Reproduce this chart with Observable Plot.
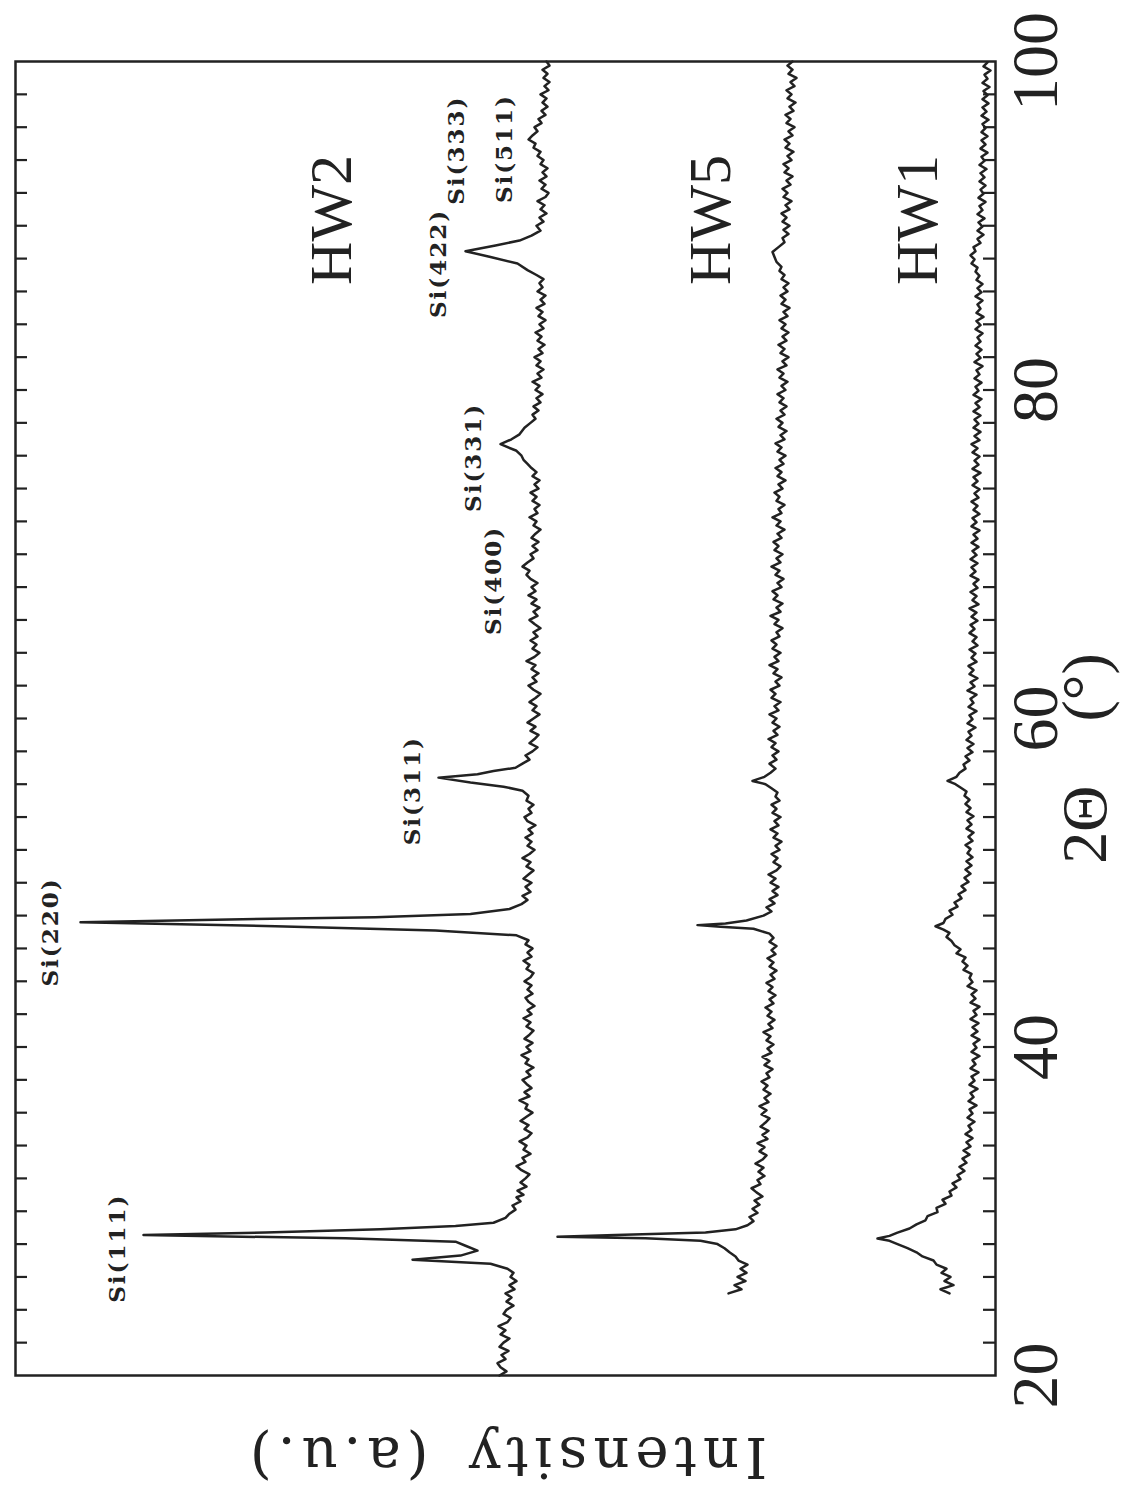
<!DOCTYPE html>
<html>
<head>
<meta charset="utf-8">
<script src="https://cdn.jsdelivr.net/npm/d3@7"></script>
<script src="https://cdn.jsdelivr.net/npm/@observablehq/plot@0.6"></script>
<style>
  html, body { margin: 0; padding: 0; background: #fff; overflow: hidden; }
  .peak text { letter-spacing: 2px; }
  .ylab text { letter-spacing: 6px; }
</style>
</head>
<body>
<div id="chart"></div>
<script>
// 2θ (deg) and intensity (a.u.): [2θ, intensity]
const HW2 = [[20,49.6],[20.25,48.9],[20.5,49.5],[20.75,49.8],[21,49.0],[21.25,49.4],[21.5,48.7],[21.75,49.6],[22,49.2],[22.25,48.6],[22.5,49.5],[22.75,49.0],[23,49.7],[23.25,48.8],[23.5,48.5],[23.75,49.2],[24,48.9],[24.25,48.2],[24.5,48.9],[24.75,48.4],[25,49.0],[25.25,48.1],[25.5,48.6],[25.75,47.9],[26,48.5],[26.25,48.2],[26.5,48.8],
[26.8,50.5],[27.05,58.3],[27.3,53.5],[27.6,51.8],[27.9,53.0],[28.15,54.0],[28.35,65],[28.55,85.2],[28.7,73],[28.9,61.5],[29.1,54],[29.3,50.2],[29.6,49.0],[29.85,48.6],[30.1,48.0],[30.35,48.3],[30.6,47.5],[30.85,47.9],
[31,47.2],[31.25,47.8],[31.5,46.9],[31.75,47.5],[32,47.0],[32.25,46.6],[32.5,47.4],[32.75,47.9],[33,47.0],[33.25,47.3],[33.5,46.5],[33.75,47.2],[34,46.9],[34.25,47.6],[34.5,46.8],[34.75,46.4],[35,47.1],[35.25,46.7],[35.5,47.5],[35.75,46.9],[36,46.3],[36.25,47.0],[36.5,46.8],[36.75,47.6],[37,46.6],[37.25,47.1],[37.5,46.4],[37.75,46.9],[38,47.3],[38.25,46.5],[38.5,46.9],[38.75,46.2],[39,47.0],[39.25,46.7],[39.5,47.4],[39.75,46.5],[40,46.9],[40.25,46.3],[40.5,47.1],[40.75,46.6],[41,46.2],[41.25,46.9],[41.5,46.5],[41.75,47.2],[42,46.4],[42.25,46.8],[42.5,46.1],[42.75,46.7],[43,47.0],[43.25,46.3],[43.5,46.8],[43.75,46.4],[44,47.1],[44.25,46.5],[44.5,46.2],[44.75,46.9],[45,46.6],[45.25,47.2],[45.5,46.4],[45.75,46.8],[46,46.3],[46.25,47.0],[46.5,46.7],
[46.8,47.9],[47.1,56],[47.35,72],[47.6,91.5],[47.75,78],[47.9,62],[48.1,52.5],[48.4,48.6],[48.7,47.4],[48.95,46.8],[49.2,47.3],[49.45,46.5],
[49.75,47.0],[50,46.4],[50.25,47.2],[50.5,46.7],[50.75,46.2],[51,46.9],[51.25,46.5],[51.5,47.3],[51.75,46.6],[52,46.1],[52.25,46.8],[52.5,46.4],[52.75,47.0],[53,46.3],[53.25,46.7],[53.5,46.0],[53.75,46.8],[54,47.1],[54.25,46.4],[54.5,46.7],[54.75,46.2],[55,46.9],
[55.3,46.7],[55.6,47.3],[55.85,49.2],[56.1,52.5],[56.4,55.7],[56.6,51.8],[56.8,50.2],[57.0,48.0],[57.25,47.3],[57.5,46.6],[57.75,47.0],
[58,46.3],[58.25,45.8],[58.5,46.6],[58.75,46.1],[59,45.7],[59.25,46.5],[59.5,46.0],[59.75,46.8],[60,46.2],[60.25,45.6],[60.5,46.3],[60.75,45.9],[61,46.6],[61.25,46.0],[61.5,45.5],[61.75,46.2],[62,46.7],[62.25,45.9],[62.5,46.3],[62.75,45.7],[63,46.4],[63.25,46.0],[63.5,46.9],[63.75,46.1],[64,45.6],[64.25,46.3],[64.5,45.9],[64.75,46.5],[65,45.8],[65.25,46.2],[65.5,45.5],[65.75,46.1],[66,46.6],[66.25,45.8],[66.5,46.2],[66.75,45.6],[67,46.4],[67.25,45.9],[67.5,46.7],[67.75,46.0],[68,46.4],[68.25,45.8],[68.5,46.5],[68.75,46.9],[69,46.6],[69.25,47.3],[69.5,46.8],[69.75,46.2],[70,46.5],[70.25,45.8],[70.5,46.3],[70.75,45.7],[71,46.4],[71.25,46.0],[71.5,45.5],[71.75,46.2],[72,45.9],[72.25,46.6],[72.5,45.8],[72.75,46.1],[73,45.6],[73.25,46.3],[73.5,45.9],[73.75,46.5],[74,45.7],[74.25,46.1],[74.5,45.6],[74.75,46.3],[75,45.9],[75.25,46.4],
[75.5,46.8],[75.75,47.2],[76.0,47.4],[76.3,47.9],[76.7,49.5],[77.0,48.4],[77.3,47.6],[77.7,47.1],[78.0,46.5],[78.25,46.0],[78.5,46.3],
[78.75,45.7],[79,46.2],[79.25,45.5],[79.5,45.9],[79.75,45.3],[80,46.0],[80.25,45.6],[80.5,46.3],[80.75,45.4],[81,45.8],[81.25,45.2],[81.5,45.9],[81.75,45.5],[82,46.1],[82.25,45.3],[82.5,45.7],[82.75,45.1],[83,45.8],[83.25,45.4],[83.5,46.0],[83.75,45.2],[84,45.6],[84.25,45.0],[84.5,45.7],[84.75,45.3],[85,45.9],[85.25,45.1],[85.5,45.5],[85.75,45.0],[86,45.8],[86.25,45.3],[86.5,45.6],[86.75,45.2],
[87.0,45.9],[87.3,46.8],[87.7,47.8],[88.1,50.5],[88.45,53.0],[88.8,50.0],[89.1,47.6],[89.4,46.4],[89.7,45.5],
[90,45.9],[90.25,45.2],[90.5,45.6],[90.75,44.9],[91,45.5],[91.25,45.1],[91.5,45.8],[91.75,45.0],[92,44.7],[92.25,45.4],[92.5,45.0],[92.75,45.6],[93,44.9],[93.25,45.3],[93.5,44.8],[93.75,45.5],[94,45.2],[94.25,45.8],[94.5,45.5],[94.75,46.2],[95,46.0],[95.25,46.7],[95.5,46.3],[95.75,45.8],[96,46.1],[96.25,45.4],[96.5,45.7],[96.75,45.0],[97,45.4],[97.25,44.8],[97.5,45.3],[97.75,44.9],[98,45.5],[98.25,44.7],[98.5,45.1],[98.75,44.6],[99,45.2],[99.25,44.8],[99.5,45.3],[99.75,44.6],[100,44.9]];

const HW5 = [[25,26.7],[25.25,25.4],[25.5,26.1],[25.75,25.0],[26,25.8],[26.25,24.9],[26.5,25.5],[26.75,24.8],[27,25.7],[27.25,26.0],[27.5,26.6],[27.75,27.1],[28.0,27.8],[28.2,29.5],[28.35,35],[28.45,43.8],[28.55,38],[28.7,29.0],[28.9,26.0],[29.15,24.8],[29.4,24.2],[29.65,24.6],[29.9,23.8],
[30.15,24.3],[30.4,23.6],[30.65,24.1],[30.9,23.3],[31.15,23.9],[31.4,24.4],[31.65,23.5],[31.9,23.8],[32.15,23.1],[32.4,23.7],[32.65,23.2],[32.9,24.0],[33.15,23.3],[33.4,22.9],[33.65,23.6],[33.9,23.1],[34.15,23.8],[34.4,22.8],[34.65,23.3],[34.9,22.7],[35.15,23.5],[35.4,23.0],[35.65,22.6],[35.9,23.4],[36.15,22.9],[36.4,23.6],[36.65,22.7],[36.9,23.1],[37.15,22.5],[37.4,23.2],[37.65,22.8],[37.9,23.4],[38.15,22.6],[38.4,22.9],[38.65,22.3],[38.9,23.1],[39.15,22.6],[39.4,23.3],[39.65,22.4],[39.9,22.8],[40.15,22.2],[40.4,22.9],[40.65,22.5],[40.9,23.2],[41.15,22.3],[41.4,22.7],[41.65,22.1],[41.9,22.8],[42.15,22.4],[42.4,23.0],[42.65,22.2],[42.9,22.6],[43.15,22.0],[43.4,22.7],[43.65,22.3],[43.9,22.9],[44.15,22.1],[44.4,22.5],[44.65,21.9],[44.9,22.6],[45.15,22.2],[45.4,22.8],[45.65,22.0],[45.9,22.4],[46.15,21.9],[46.4,22.6],[46.65,22.2],
[46.9,22.6],[47.2,24.2],[47.32,27.5],[47.42,29.8],[47.52,27.0],[47.7,24.9],[48.0,23.2],[48.25,22.4],[48.5,22.9],
[48.75,22.1],[49,22.6],[49.25,21.8],[49.5,22.3],[49.75,21.7],[50,22.5],[50.25,22.0],[50.5,22.7],[50.75,21.9],[51,21.5],[51.25,22.2],[51.5,21.8],[51.75,22.4],[52,21.6],[52.25,22.0],[52.5,21.4],[52.75,22.2],[53,21.8],[53.25,22.5],[53.5,21.7],[53.75,22.1],[54,21.5],[54.25,22.3],[54.5,21.9],[54.75,22.4],[55,21.6],[55.25,22.0],[55.5,21.8],
[55.75,22.4],[56.0,23.0],[56.2,24.3],[56.45,23.1],[56.7,22.5],[56.95,22.0],
[57.25,22.6],[57.5,21.9],[57.75,22.3],[58,21.7],[58.25,22.4],[58.5,22.0],[58.75,22.7],[59,21.8],[59.25,22.2],[59.5,21.6],[59.75,22.3],[60,21.9],[60.25,22.6],[60.5,21.7],[60.75,22.1],[61,21.5],[61.25,22.4],[61.5,22.0],[61.75,22.5],[62,21.6],[62.25,22.0],[62.5,21.4],[62.75,22.2],[63,21.8],[63.25,22.6],[63.5,21.7],[63.75,22.1],[64,21.5],[64.25,22.3],[64.5,21.9],[64.75,22.4],[65,21.6],[65.25,21.9],[65.5,21.3],[65.75,22.1],[66,21.7],[66.25,22.5],[66.5,21.5],[66.75,21.9],[67,21.3],[67.25,22.2],[67.5,21.8],[67.75,22.3],[68,21.4],[68.25,21.8],[68.5,21.2],[68.75,22.0],[69,21.6],[69.25,22.4],[69.5,21.5],[69.75,21.9],[70,21.3],[70.25,22.1],[70.5,21.7],[70.75,22.2],[71,21.4],[71.25,21.8],[71.5,21.1],[71.75,21.9],[72,21.5],[72.25,22.3],[72.5,21.4],[72.75,21.7],[73,21.1],[73.25,21.9],[73.5,21.6],[73.75,22.1],[74,21.3],[74.25,21.7],[74.5,21.0],[74.75,21.8],[75,21.4],[75.25,22.0],[75.5,21.2],[75.75,21.6],[76,21.0],[76.25,21.8],[76.5,21.4],[76.75,22.0],[77,21.1],[77.25,21.5],[77.5,20.9],[77.75,21.7],[78,21.3],[78.25,21.9],[78.5,21.1],[78.75,21.5],[79,20.9],[79.25,21.6],[79.5,21.2],[79.75,21.8],[80,21.0],[80.25,21.4],[80.5,20.8],[80.75,21.6],[81,21.2],[81.25,21.8],[81.5,20.9],[81.75,21.3],[82,20.7],[82.25,21.5],[82.5,21.1],[82.75,21.7],[83,20.9],[83.25,21.3],[83.5,20.7],[83.75,21.4],[84,21.0],[84.25,21.6],[84.5,20.8],[84.75,21.2],[85,20.6],[85.25,21.4],[85.5,21.0],[85.75,21.5],[86,20.8],[86.25,21.2],[86.5,20.7],[86.75,21.4],[87,21.1],[87.25,21.6],[87.5,21.4],
[87.8,21.9],[88.1,22.1],[88.4,22.3],[88.7,21.7],[89.0,21.1],
[89.25,21.3],[89.5,20.7],[89.75,21.2],[90,20.6],[90.25,21.3],[90.5,20.9],[90.75,21.4],[91,20.6],[91.25,21.0],[91.5,20.4],[91.75,21.2],[92,20.8],[92.25,21.3],[92.5,20.5],[92.75,20.9],[93,20.3],[93.25,21.1],[93.5,20.7],[93.75,21.2],[94,20.4],[94.25,20.8],[94.5,20.2],[94.75,21.0],[95,20.6],[95.25,21.1],[95.5,20.3],[95.75,20.7],[96,20.1],[96.25,20.9],[96.5,20.5],[96.75,21.0],[97,20.2],[97.25,20.6],[97.5,20.0],[97.75,20.8],[98,20.4],[98.25,20.9],[98.5,20.1],[98.75,20.5],[99,19.9],[99.25,20.7],[99.5,20.3],[99.75,20.8],[100,20.3]];

const HW1 = [[25,4.6],[25.25,5.5],[25.5,4.2],[25.75,5.1],[26,4.5],[26.25,5.4],[26.5,4.9],[26.75,5.9],[27.0,6.2],[27.25,7.3],[27.5,7.9],[27.75,8.8],[28.0,9.8],[28.2,10.6],[28.34,11.8],[28.5,10.6],[28.7,9.8],[28.95,8.6],[29.2,7.9],[29.45,7.0],[29.7,6.8],[29.95,5.8],[30.2,5.9],[30.45,5.0],[30.7,5.3],[30.95,4.4],[31.2,4.6],[31.45,3.9],[31.7,4.3],[31.95,3.5],[32.2,3.8],[32.45,3.1],[32.7,3.6],[32.95,2.9],[33.2,3.3],[33.45,2.6],[33.7,3.2],[33.95,2.5],[34.2,2.9],[34.45,2.3],[34.7,3.0],[34.95,2.4],[35.2,2.7],[35.45,2.1],[35.7,2.8],[35.95,2.3],[36.2,2.6],[36.45,1.9],[36.7,2.7],[36.95,2.2],[37.2,2.5],[37.45,1.8],[37.7,2.6],[37.95,2.1],[38.2,2.4],[38.45,1.7],[38.7,2.5],[38.95,2.0],[39.2,2.3],[39.45,1.6],[39.7,2.4],[39.95,1.9],[40.2,2.2],[40.45,1.6],[40.7,2.4],[40.95,1.8],[41.2,2.3],[41.45,1.7],[41.7,2.5],[41.95,1.9],[42.2,2.2],[42.45,1.6],[42.7,2.5],[42.95,2.0],[43.2,2.4],[43.45,1.9],[43.7,2.8],[43.95,2.3],[44.2,2.6],[44.45,2.4],[44.7,3.2],[44.95,2.8],[45.2,3.3],[45.45,3.0],[45.7,3.9],[45.95,3.5],[46.2,4.1],[46.45,4.4],[46.7,4.9],[46.95,4.6],[47.15,5.2],[47.35,6.0],[47.55,5.2],[47.8,5.0],[48.05,4.3],[48.3,4.6],[48.55,3.8],[48.8,4.1],[49.05,3.4],[49.3,3.7],[49.55,3.0],[49.8,3.4],[50.05,2.7],[50.3,3.1],[50.55,2.5],[50.8,3.0],[51.05,2.4],[51.3,2.9],[51.55,2.3],[51.8,2.8],[52.05,2.5],[52.3,3.0],[52.55,2.3],[52.8,2.7],[53.05,2.2],[53.3,2.9],[53.55,2.4],[53.8,2.8],[54.05,2.2],[54.3,2.9],[54.55,2.5],[54.8,3.0],[55.05,2.6],[55.3,3.1],[55.55,2.9],[55.8,3.5],[56.0,4.0],[56.2,4.8],[56.45,3.9],[56.7,3.6],[56.95,3.0],[57.2,3.2],[57.45,2.6],[57.7,3.0],[57.95,2.3],[58.2,2.8],[58.45,2.2],[58.7,2.9],[58.95,2.4],[59.2,2.7],[59.45,2.0],[59.7,2.8],[59.95,2.3],[60.2,2.6],[60.45,1.9],[60.7,2.7],[60.95,2.2],[61.2,2.5],[61.45,1.9],[61.7,2.8],[61.95,2.1],[62.2,2.5],[62.45,1.8],[62.7,2.6],[62.95,2.2],[63.2,2.7],[63.45,1.9],[63.7,2.4],[63.95,2.0],[64.2,2.6],[64.45,1.8],[64.7,2.3],[64.95,1.9],[65.2,2.6],[65.45,2.1],[65.7,2.5],[65.95,1.8],[66.2,2.4],[66.45,1.9],[66.7,2.6],[66.95,1.7],[67.2,2.3],[67.45,1.9],[67.7,2.5],[67.95,1.8],[68.2,2.2],[68.45,1.7],[68.7,2.5],[68.95,2.0],[69.2,2.4],[69.45,1.8],[69.7,2.5],[69.95,1.9],[70.2,2.3],[70.45,1.7],[70.7,2.4],[70.95,1.8],[71.2,2.2],[71.45,1.6],[71.7,2.4],[71.95,1.9],[72.2,2.3],[72.45,1.6],[72.7,2.2],[72.95,1.8],[73.2,2.4],[73.45,1.7],[73.7,2.1],[73.95,1.6],[74.2,2.3],[74.45,1.8],[74.7,2.2],[74.95,1.5],[75.2,2.3],[75.45,1.7],[75.7,2.1],[75.95,1.6],[76.2,2.3],[76.45,1.8],[76.7,2.4],[76.95,1.6],[77.2,2.1],[77.45,1.5],[77.7,2.2],[77.95,1.7],[78.2,2.1],[78.45,1.5],[78.7,2.2],[78.95,1.6],[79.2,2.0],[79.45,1.4],[79.7,2.2],[79.95,1.7],[80.2,2.0],[80.45,1.4],[80.7,2.1],[80.95,1.6],[81.2,1.9],[81.45,1.3],[81.7,2.1],[81.95,1.5],[82.2,1.9],[82.45,1.4],[82.7,2.0],[82.95,1.5],[83.2,1.8],[83.45,1.3],[83.7,2.0],[83.95,1.5],[84.2,1.9],[84.45,1.2],[84.7,1.9],[84.95,1.5],[85.2,1.8],[85.45,1.3],[85.7,2.0],[85.95,1.4],[86.2,1.8],[86.45,1.3],[86.7,1.9],[86.95,1.6],[87.2,2.0],[87.45,1.8],[87.7,2.4],[87.95,2.1],[88.2,2.5],[88.45,2.0],[88.7,2.2],[88.95,1.5],[89.2,1.8],[89.45,1.2],[89.7,1.8],[89.95,1.3],[90.2,1.7],[90.45,1.1],[90.7,1.8],[90.95,1.3],[91.2,1.6],[91.45,1.0],[91.7,1.7],[91.95,1.2],[92.2,1.5],[92.45,1.0],[92.7,1.6],[92.95,1.1],[93.2,1.5],[93.45,0.9],[93.7,1.6],[93.95,1.1],[94.2,1.4],[94.45,0.8],[94.7,1.5],[94.95,1.0],[95.2,1.4],[95.45,0.8],[95.7,1.4],[95.95,1.0],[96.2,1.3],[96.45,0.7],[96.7,1.4],[96.95,0.9],[97.2,1.3],[97.45,0.7],[97.7,1.3],[97.95,0.8],[98.2,1.2],[98.45,0.6],[98.7,1.3],[98.95,0.8],[99.2,1.1],[99.45,0.5],[99.7,1.2],[99.95,0.8]];

// Peak annotations
const peakLabels = ["Si(111)", "Si(220)", "Si(311)", "Si(400)", "Si(331)", "Si(422)", "Si(333)", "Si(511)"];
const peakTheta  = [27.75, 47.0, 55.6, 68.4, 75.9, 87.7, 94.6, 94.7];
const peakInt    = [87.8, 94.5, 58.3, 50.2, 52.2, 55.7, 53.9, 49.1];

// Sample names
const sampleNames = ["HW2", "HW5", "HW1"];
const sampleTheta = [86.4, 86.4, 86.4];
const sampleInt   = [66.4, 28.5, 7.8];

// Axis ticks
const majorTicks = [20, 40, 60, 80, 100];
const minorTicks = [22, 24, 26, 28, 30, 32, 34, 36, 38, 40, 42, 44, 46, 48, 50, 52, 54, 56, 58, 60, 62, 64, 66, 68, 70, 72, 74, 76, 78, 80, 82, 84, 86, 88, 90, 92, 94, 96, 98];
const xLabel = "2\u0398\u2003(\u00b0)";
const yLabel = "Intensity\u2002(a.u.)";

const W = 1126, H = 1493;
const mL = 15, mR = 131, mT = 61, mB = 118;
const plotW = W - mL - mR;
const ink = "#222";
const serif = "'Liberation Serif', 'Times New Roman', serif";

const series = [HW2, HW5, HW1];

const chart = Plot.plot({
  width: W,
  height: H,
  marginLeft: mL,
  marginRight: mR,
  marginTop: mT,
  marginBottom: mB,
  x: {domain: [0, 98], reverse: true, axis: null},
  y: {domain: [20, 100], axis: null},
  style: {background: "#fff", color: ink},
  marks: [
    ...series.map(s => Plot.line(s, {x: d => d[1], y: d => d[0], stroke: ink, strokeWidth: 2.5, strokeLinejoin: "round"})),
    Plot.tickY(minorTicks, {y: d => d, insetRight: plotW - 12, stroke: ink, strokeWidth: 2.2}),
    Plot.tickY(minorTicks, {y: d => d, insetLeft: plotW - 12, stroke: ink, strokeWidth: 2.2}),
    Plot.frame({stroke: ink, strokeWidth: 2.5}),
    Plot.text(majorTicks, {y: d => d, text: d => String(d), frameAnchor: "right", dx: 40, rotate: -90,
      textAnchor: "middle", lineAnchor: "middle", fontSize: 66, fontFamily: serif, fill: ink}),
    Plot.text([xLabel], {text: d => d, frameAnchor: "right", dx: 90, dy: 40, rotate: -90,
      textAnchor: "middle", lineAnchor: "middle", fontSize: 64, fontFamily: serif, fill: ink}),
    Plot.text([yLabel], {text: d => d, frameAnchor: "bottom", dy: 80, rotate: 180,
      textAnchor: "middle", lineAnchor: "middle", fontSize: 56, fontFamily: "'DejaVu Serif', serif", fill: ink, className: "ylab"}),
    Plot.text(peakLabels, {x: (d, i) => peakInt[i], y: (d, i) => peakTheta[i], text: d => d, rotate: -90,
      textAnchor: "middle", lineAnchor: "middle", fontSize: 23, fontWeight: "bold", fontFamily: "'DejaVu Serif', serif", fill: ink, className: "peak"}),
    Plot.text(sampleNames, {x: (d, i) => sampleInt[i], y: (d, i) => sampleTheta[i], text: d => d, rotate: -90,
      textAnchor: "start", lineAnchor: "middle", fontSize: 60, fontFamily: serif, fill: ink})
  ]
});

document.getElementById("chart").appendChild(chart);
</script>
</body>
</html>
